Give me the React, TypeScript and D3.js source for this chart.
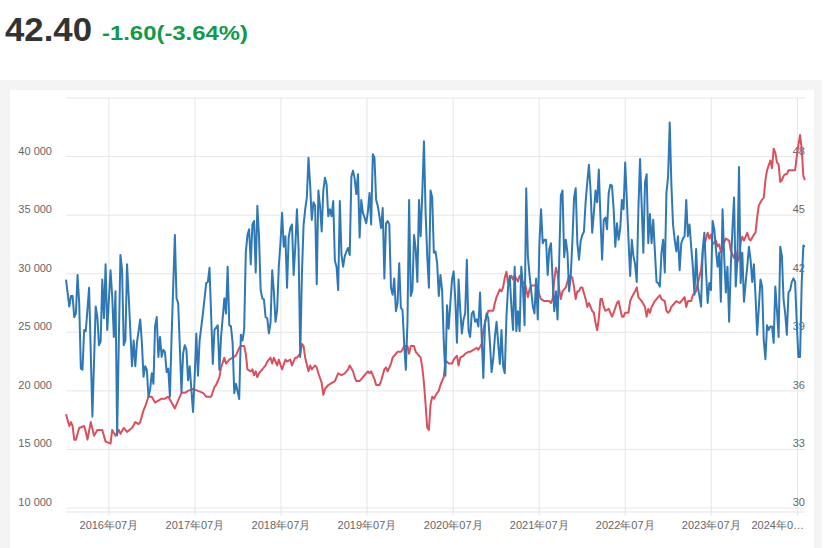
import React, { useEffect, useRef } from 'react';
import * as d3 from 'd3';

// weekly readings: [weeks since 2016-01-01, value]
// blue series, in thousands (left axis)
const volumeWeeks: [number, number][] = [
  [0, 29.5], [2, 27.2], [3, 28.1], [4, 28.1], [5, 26.3], [6, 26.6], [7, 29.9], [8, 27.5], [9, 21.9], [10, 21.8],
  [11, 25.2], [12, 25.1], [14, 28.8], [16, 17.8], [18, 27.2], [19, 26.3], [20, 23.9], [21, 24.2], [22, 29.5], [23, 26.2],
  [24, 30.8], [25, 25.2], [27, 30.3], [28, 28.1], [29, 24.6], [30, 28.5], [31, 16.2], [32, 24.1], [33, 31.6], [34, 30.3],
  [35, 23.9], [36, 24.3], [37, 30.8], [38, 28.1], [40, 22.1], [41, 24.3], [42, 22.1], [43, 24.1], [45, 26.1], [46, 24.1],
  [47, 21.2], [48, 22.1], [49, 21.8], [50, 19.5], [51, 20.1], [52, 21.5], [53, 20.6], [54, 25.5], [55, 26.3], [56, 22.9],
  [57, 24.6], [58, 22.9], [59, 23.5], [60, 23.3], [61, 21.6], [62, 21.9], [63, 19.5], [64, 24.6], [66, 33.3], [67, 27.9],
  [68, 27.5], [69, 23.8], [70, 19.9], [71, 23.2], [72, 23.9], [73, 23.5], [74, 20.9], [75, 22.1], [76, 20.1], [77, 18.2],
  [78, 21.2], [79, 24.9], [80, 21.3], [81, 24.3], [83, 26.6], [85, 29.2], [86, 29.3], [87, 30.5],
  [89, 22.3], [90, 25.2], [92, 25.6], [93, 21.8], [94, 24.6], [96, 27.9], [97, 26.6], [98, 30.6], [99, 25.6], [100, 25.5],
  [101, 24.1], [102, 19.8], [103, 20.6], [105, 19.3], [106, 24.8], [107, 24.3], [108, 25.2], [109, 31.8], [110, 33.3], [111, 33.8],
  [112, 30.8], [113, 34.2], [114, 34.5], [115, 30.1], [116, 35.8], [117, 33.2], [118, 28.6], [119, 27.9], [120, 27.8], [121, 26.3],
  [122, 26.2], [123, 24.9], [124, 25.8], [125, 30.3], [126, 28.5], [127, 25.9], [128, 26.9], [129, 30.6], [130, 32.6], [131, 35.2],
  [132, 32.3], [133, 33.2], [134, 28.8], [135, 33.1], [136, 33.9], [137, 34.2], [138, 29.9], [139, 32.3], [140, 35.5], [141, 32.1],
  [142, 22.9], [143, 29.9], [144, 34.1], [145, 35.5], [146, 36.5], [147, 39.9], [148, 37.6], [149, 34.6], [150, 36.1], [151, 35.8],
  [152, 29.1], [153, 37.1], [154, 35.8], [155, 33.6], [156, 37.1], [157, 38.2], [158, 37.6], [159, 34.9], [160, 35.5], [161, 34.9],
  [162, 36.2], [163, 31.1], [164, 30.6], [165, 28.6], [166, 36.2], [167, 31.6], [168, 30.6], [169, 31.5], [170, 31.9], [171, 32.2],
  [172, 31.6], [173, 38.3], [174, 38.8],
  [175, 38.1], [176, 36.8], [177, 38.5], [178, 33.1], [179, 36.3], [180, 35.2], [181, 34.8], [182, 34.3], [183, 35.3], [184, 36.9],
  [185, 34.2], [186, 40.2], [187, 39.9], [188, 36.3], [189, 35.8], [190, 34.9], [191, 33.9], [192, 35.6], [193, 29.6], [194, 34.3],
  [195, 34.5], [196, 34.2], [197, 28.8], [198, 28.2], [199, 29.6], [200, 26.8], [201, 27.5], [202, 30.9], [203, 27.1], [204, 26.9],
  [205, 24.1], [206, 21.8], [207, 25.8], [208, 36.3], [209, 28.1], [210, 28.6], [211, 33.3], [212, 32.1], [213, 29.3], [214, 36.3],
  [215, 33.2], [216, 36.9], [217, 41.3], [218, 35.2], [219, 31.5], [220, 28.8], [221, 37.1], [222, 36.5], [223, 31.8], [224, 31.9],
  [225, 30.9], [226, 28.1], [227, 29.9], [228, 28.6], [229, 24.3], [230, 21.3], [231, 27.3], [232, 25.3], [233, 27.5], [234, 29.5],
  [235, 30.2], [236, 27.8], [237, 24.1], [238, 29.5], [239, 26.9], [240, 24.9], [241, 26.1], [242, 26.6], [243, 31.2], [244, 25.2],
  [245, 24.6], [246, 26.6], [247, 26.8], [248, 25.9], [249, 26.1], [250, 25.5], [251, 28.4], [252, 24.6], [253, 21.1], [254, 25.8],
  [255, 26.6], [256, 26.2], [257, 24.1], [258, 21.6], [259, 22.7], [260, 24.6], [261, 25.9], [262, 24.1], [263, 22.3],
  [264, 25.2], [265, 22.1], [266, 21.5], [267, 26.3], [268, 28.9], [269, 29.8], [270, 27.2], [271, 25.2], [272, 30.6], [273, 25.1],
  [274, 26.8], [275, 25.1], [276, 30.6], [277, 28.9], [278, 25.6], [279, 37.3], [280, 31.5], [281, 29.9], [283, 27.2], [284, 26.6],
  [285, 29.6], [286, 26.1], [287, 32.6], [288, 35.5], [289, 32.6], [290, 32.9], [291, 32.9], [292, 29.9], [293, 32.1], [294, 32.6],
  [295, 29.5], [296, 26.8], [297, 28.5], [298, 26.1], [299, 31.2], [300, 36.7], [301, 37.1], [302, 31.4], [303, 32.9], [304, 31.8],
  [305, 28.5], [306, 29.8], [307, 32.8], [308, 36.5], [309, 37.3], [310, 32.6], [311, 31.2], [312, 32.8], [313, 33.3], [314, 33.6],
  [315, 36.1], [316, 37.8], [317, 39.3], [318, 37.1], [319, 33.5], [320, 35.2], [321, 37.1], [322, 36.1], [323, 38.9], [324, 34.8],
  [325, 31.2], [326, 34.6], [327, 34.8], [328, 33.8], [329, 36.9], [330, 37.6], [331, 37.5], [332, 35.5], [333, 32.3], [334, 34.3],
  [335, 32.9], [336, 33.9], [337, 36.3], [338, 35.5], [339, 39.5], [340, 36.3], [341, 32.9], [342, 29.8], [343, 32.9], [344, 31.5],
  [345, 30.8], [346, 29.3], [347, 35.5], [348, 39.8], [349, 35.8], [350, 31.8], [351, 37.8], [352, 38.5], [353, 32.6], [354, 35.1],
  [355, 32.6], [356, 34.6], [357, 31.9], [358, 29.3], [359, 29.2], [360, 28.9], [361, 31.8], [362, 32.9], [363, 30.1], [364, 36.9],
  [365, 38.3], [366, 42.9], [367, 37.6], [368, 34.2], [369, 32.9], [370, 31.9], [371, 33.2], [372, 30.3], [373, 32.6], [374, 33.0],
  [375, 33.2], [376, 36.3], [377, 33.2], [378, 34.2], [379, 32.3], [380, 30.6], [381, 28.2], [382, 32.1], [383, 28.9], [384, 28.1],
  [385, 27.2], [386, 32.1], [387, 33.5], [388, 30.2], [389, 27.5], [390, 29.2], [391, 28.6], [392, 34.5], [393, 33.8], [394, 32.1],
  [395, 30.6], [396, 31.8], [397, 27.6], [398, 35.5], [399, 31.5], [400, 28.4], [401, 30.6], [402, 25.9], [403, 30.6], [404, 33.8],
  [405, 36.5], [406, 28.9], [407, 31.2], [408, 39.1], [409, 29.2], [410, 31.8], [411, 27.6], [412, 29.2], [413, 30.6], [414, 32.3],
  [415, 31.2], [416, 29.3], [417, 30.8], [418, 28.1], [419, 24.8], [420, 27.1], [421, 29.5], [422, 28.9], [423, 24.3], [424, 22.7],
  [425, 25.6], [426, 25.2], [427, 25.5], [428, 25.5], [429, 24.1], [430, 28.9], [431, 26.9], [432, 24.6], [433, 32.3], [434, 31.5],
  [435, 27.8], [436, 26.6], [437, 24.8], [438, 28.4], [439, 28.6], [440, 29.3], [441, 29.6], [442, 29.3], [443, 25.8], [444, 22.9],
  [445, 22.9], [446, 29.2], [447, 32.4], [448, 32.3],
];

// red series (right axis)
const priceWeeks: [number, number][] = [
  [0, 34.8], [2, 34.2], [3, 34.4], [4, 34.2], [5, 33.5], [6, 33.5], [8, 34.1], [11, 34.2], [12, 33.9], [13, 33.5],
  [15, 34.4], [17, 33.7], [19, 34.0], [22, 34.0], [24, 33.4], [27, 33.3], [28, 34.0], [30, 33.7], [32, 34.0], [33, 33.8],
  [35, 34.1], [37, 33.9], [40, 34.1], [42, 34.4], [44, 34.3], [45, 34.4], [47, 35.0], [48, 35.2], [50, 35.7], [52, 35.7],
  [54, 35.4], [56, 35.5], [58, 35.6], [60, 35.6], [62, 35.7], [64, 35.4], [66, 35.1], [68, 35.5], [70, 35.9], [72, 35.9],
  [74, 36.0], [77, 36.1], [80, 36.0], [83, 35.9], [85, 35.7],
  [87, 35.7], [88, 35.7], [90, 36.2], [91, 36.3], [93, 36.7], [94, 37.2], [96, 37.7], [97, 37.4], [99, 37.6], [101, 37.7],
  [103, 37.8], [105, 38.2], [106, 38.3], [108, 38.3], [109, 37.9], [110, 37.1], [112, 37.0], [113, 37.1], [114, 36.8], [115, 37.0],
  [116, 36.7], [117, 36.9], [119, 37.1], [121, 37.3], [122, 37.5], [124, 37.7], [125, 37.4], [126, 37.7], [128, 37.3], [129, 37.6],
  [131, 37.1], [133, 37.6], [134, 37.5], [136, 37.6], [137, 37.3], [139, 37.7], [140, 37.7], [142, 37.9], [143, 38.4], [144, 38.3],
  [145, 37.7], [147, 37.0], [148, 37.3], [149, 37.1], [151, 37.3], [152, 37.2], [153, 36.9], [155, 36.4], [156, 35.8], [157, 36.1],
  [159, 36.3], [161, 36.4], [163, 36.5], [165, 36.9], [167, 36.8], [169, 36.9], [171, 37.1], [172, 37.3], [174, 37.0], [175, 36.7],
  [176, 36.5], [178, 36.5], [180, 36.7], [181, 36.8], [183, 37.0], [184, 36.9], [185, 37.0], [187, 36.6], [188, 36.3], [190, 36.3],
  [191, 36.5], [193, 37.1], [194, 37.2], [195, 37.0], [197, 37.4], [198, 37.7], [200, 37.9], [201, 38.0], [203, 38.0], [204, 38.1],
  [205, 38.3], [207, 38.3], [208, 37.9], [209, 38.3], [211, 38.3], [212, 38.0], [214, 37.8], [215, 37.7], [216, 37.2], [217, 36.4],
  [218, 35.3], [219, 34.1], [220, 34.0], [221, 35.3], [222, 35.7], [223, 35.6], [225, 35.9], [226, 36.0], [227, 36.3], [229, 36.7],
  [230, 37.5], [231, 37.5], [232, 37.4], [234, 37.4], [235, 37.6], [237, 37.8], [238, 37.3], [239, 37.7], [241, 37.8], [242, 37.9],
  [244, 38.0], [245, 38.0], [247, 38.1], [249, 38.2], [250, 38.1], [252, 38.4], [253, 39.1], [254, 39.5], [256, 40.1], [257, 40.1],
  [259, 40.1], [260, 40.5], [261, 40.8], [263, 41.2],
  [264, 41.1], [265, 41.3], [266, 41.8], [267, 42.1], [268, 41.5], [270, 41.9], [271, 41.7], [272, 41.9], [274, 41.6], [275, 41.9],
  [276, 41.7], [277, 41.5], [278, 41.6], [280, 40.8], [281, 41.2], [282, 41.4], [283, 41.4], [285, 41.4], [286, 41.3], [287, 40.9],
  [288, 40.7], [290, 40.6], [291, 40.6], [293, 40.6], [294, 40.5], [295, 40.7], [296, 41.7], [297, 42.3], [298, 42.0], [299, 41.2],
  [300, 40.7], [301, 41.1], [303, 41.3], [304, 41.6], [305, 41.9], [307, 41.8], [308, 41.3], [309, 40.7], [310, 41.1], [311, 41.1],
  [312, 41.3], [313, 41.3], [315, 40.7], [316, 40.3], [317, 40.5], [319, 40.1], [320, 40.0], [321, 39.5], [322, 39.1], [323, 39.7],
  [324, 40.7], [325, 40.7], [326, 40.3], [327, 40.1], [329, 40.2], [330, 40.0], [331, 39.8], [332, 40.0], [334, 40.5], [335, 40.6],
  [337, 39.8], [338, 39.8], [339, 40.0], [341, 40.0], [342, 40.6], [343, 40.8], [345, 41.1], [346, 41.3], [347, 40.8], [348, 40.7],
  [349, 40.6], [351, 40.3], [352, 39.8], [353, 40.2], [354, 40.0],
  [355, 40.3], [357, 40.6], [359, 40.8], [360, 40.9], [361, 40.7], [363, 40.6], [364, 40.1], [365, 40.0], [366, 40.1], [367, 40.3],
  [369, 40.5], [370, 40.6], [372, 40.5], [373, 40.6], [375, 40.8], [376, 40.3], [377, 40.6], [379, 40.6], [380, 40.9], [382, 41.1],
  [383, 41.5], [385, 42.2], [386, 43.1], [388, 43.8], [389, 44.1], [390, 43.8], [391, 44.0], [392, 43.5], [394, 43.7], [395, 43.4],
  [396, 43.5], [397, 43.1], [399, 43.6], [400, 43.8], [402, 43.7], [403, 43.2], [405, 42.8], [406, 43.1], [407, 42.6], [408, 42.8],
  [409, 43.6], [410, 43.9], [411, 43.7], [413, 44.1], [414, 43.8], [415, 43.7], [417, 44.0], [418, 44.1], [419, 44.9], [420, 45.5],
  [422, 45.8], [423, 45.9], [424, 46.8], [425, 47.3], [427, 47.8], [428, 47.4], [429, 48.4], [430, 48.2], [431, 47.7], [432, 47.6],
  [433, 46.7], [434, 46.8], [435, 47.0], [436, 47.1], [437, 47.1], [438, 47.3], [439, 47.3], [440, 47.3], [442, 47.3], [443, 48.0],
  [444, 48.6], [445, 49.1], [446, 48.4], [447, 47.0], [448, 46.8],
];

const leftTicks = [10000, 15000, 20000, 25000, 30000, 35000, 40000, 45000];
const rightTicks = [30, 33, 36, 39, 42, 45, 48, 51];
const tickYears = [2016, 2017, 2018, 2019, 2020, 2021, 2022, 2023, 2024];
const lastPrice = '42.40';
const priceChange = '-1.60(-3.64%)';

const App = () => {
  const svgRef = useRef<SVGSVGElement>(null);

  useEffect(() => {
    drawChart();
    return () => {
      d3.select(svgRef.current).selectAll('*').remove();
    };
  }, []);

  const drawChart = () => {
    const width = 839;
    const height = 548;
    const plot = { left: 66, right: 805, top: 98, bottom: 508 };
    const labelFont = '"Liberation Sans", Arial, sans-serif';

    const svg = d3.select(svgRef.current);

    // header numbers
    svg.append('text')
      .attr('x', 5).attr('y', 41)
      .attr('font-family', labelFont).attr('font-weight', 'bold')
      .attr('font-size', 33).attr('fill', '#333333')
      .attr('textLength', 87).attr('lengthAdjust', 'spacingAndGlyphs')
      .text(lastPrice);
    svg.append('text')
      .attr('x', 102).attr('y', 40)
      .attr('font-family', labelFont).attr('font-weight', 'bold')
      .attr('font-size', 20).attr('fill', '#13994b')
      .attr('textLength', 146).attr('lengthAdjust', 'spacingAndGlyphs')
      .text(priceChange);

    // grey frame + white card
    svg.append('rect').attr('x', 0).attr('y', 80).attr('width', 822).attr('height', height - 80).attr('fill', '#f4f4f4');
    svg.append('rect').attr('x', 10).attr('y', 90).attr('width', 804).attr('height', height - 90).attr('fill', '#ffffff');

    const start = new Date(2016, 0, 1);
    const weekDate = (w: number) => d3.timeDay.offset(start, w * 7);
    const lastWeek = volumeWeeks[volumeWeeks.length - 1][0];

    const x = d3.scaleTime()
      .domain([start, weekDate(lastWeek)])
      .range([plot.left, plot.right]);
    const yLeft = d3.scaleLinear().domain([10000, 45000]).range([plot.bottom, plot.top]);
    const yRight = d3.scaleLinear().domain([30, 51]).range([plot.bottom, plot.top]);

    const spaced = d3.formatLocale({ decimal: '.', thousands: ' ', grouping: [3], currency: ['', ''] }).format(',');
    const monthFmt = d3.timeFormat('%Y年%m月');
    const xTicks = tickYears.map(yr => new Date(yr, 6, 1));

    const grid = svg.append('g');
    grid.selectAll('.hgrid')
      .data(leftTicks)
      .enter().append('line')
      .attr('x1', plot.left).attr('x2', plot.right)
      .attr('y1', d => yLeft(d)).attr('y2', d => yLeft(d))
      .attr('stroke', '#e6e6e6').attr('stroke-width', 1);
    grid.selectAll('.vgrid')
      .data(xTicks)
      .enter().append('line')
      .attr('x1', d => x(d)).attr('x2', d => x(d))
      .attr('y1', plot.top).attr('y2', plot.bottom + 8)
      .attr('stroke', '#e6e6e6').attr('stroke-width', 1);

    // bottom axis line
    svg.append('line')
      .attr('x1', plot.left).attr('x2', plot.right)
      .attr('y1', plot.bottom + 4).attr('y2', plot.bottom + 4)
      .attr('stroke', '#dfe3f0').attr('stroke-width', 1);

    // left labels (top tick has none)
    svg.selectAll('.lab-left')
      .data(leftTicks.slice(0, -1))
      .enter().append('text')
      .attr('x', 52).attr('y', d => yLeft(d) - 2)
      .attr('text-anchor', 'end')
      .attr('font-family', labelFont).attr('font-size', 11).attr('fill', '#666666')
      .text(d => spaced(d));

    svg.selectAll('.lab-right')
      .data(rightTicks.slice(0, -1))
      .enter().append('text')
      .attr('x', plot.right).attr('y', d => yRight(d) - 2)
      .attr('text-anchor', 'end')
      .attr('font-family', labelFont).attr('font-size', 11).attr('fill', '#666666')
      .text(d => String(d));

    svg.selectAll('.lab-x')
      .data(xTicks)
      .enter().append('text')
      .attr('x', (d, i) => (i === xTicks.length - 1 ? plot.right - 1 : x(d)))
      .attr('y', 529)
      .attr('text-anchor', (d, i) => (i === xTicks.length - 1 ? 'end' : 'middle'))
      .attr('font-family', labelFont).attr('font-size', 11).attr('fill', '#666666')
      .text((d, i) => (i === xTicks.length - 1 ? monthFmt(d).slice(0, 6) + '…' : monthFmt(d)));

    const blueLine = d3.line<[number, number]>()
      .x(d => x(weekDate(d[0])))
      .y(d => yLeft(d[1] * 1000));
    const redLine = d3.line<[number, number]>()
      .x(d => x(weekDate(d[0])))
      .y(d => yRight(d[1]));

    svg.append('path')
      .datum(priceWeeks)
      .attr('d', redLine)
      .attr('fill', 'none')
      .attr('stroke', '#d9505f')
      .attr('stroke-width', 2)
      .attr('stroke-linejoin', 'round');

    svg.append('path')
      .datum(volumeWeeks)
      .attr('d', blueLine)
      .attr('fill', 'none')
      .attr('stroke', '#2f78b5')
      .attr('stroke-width', 2)
      .attr('stroke-linejoin', 'round');

    svg.attr('width', width).attr('height', height);
  };

  return (
    <div style={{ position: 'absolute', left: 0, top: 0 }}>
      <svg ref={svgRef} width={839} height={548} style={{ display: 'block' }}></svg>
    </div>
  );
};

export default App;
